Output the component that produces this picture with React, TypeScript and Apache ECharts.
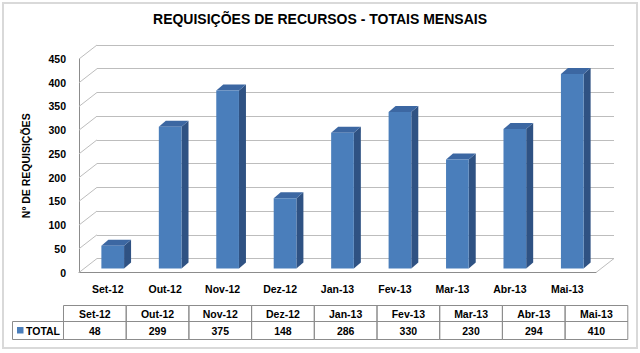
import React, { useEffect, useRef } from "react";
import * as echarts from "echarts";

const categories = ["Set-12", "Out-12", "Nov-12", "Dez-12", "Jan-13", "Fev-13", "Mar-13", "Abr-13", "Mai-13"];
const totals = [48, 299, 375, 148, 286, 330, 230, 294, 410];
const yTicks = [0, 50, 100, 150, 200, 250, 300, 350, 400, 450];
const seriesName = "TOTAL";
const titleText = "REQUISIÇÕES DE RECURSOS - TOTAIS MENSAIS";
const yAxisTitle = "Nº DE REQUISIÇÕES";

const FONT = '"Liberation Sans", Arial, sans-serif';
const FRONT = "#4A7EBB";
const SIDE = "#2F5283";
const TOP = "#3C67A2";
const GRID = "#BDBDBD";
const AXIS = "#8C8C8C";
const TABLE_LINE = "#8C8C8C";

// 3D projection offsets (style constants)
const DEPTH_DX = -18;
const DEPTH_DY = 14;
const BAR_DX = -13;
const BAR_DY = 10;
const SIDE_DX = 7;
const SIDE_DY = -6;

// Data table layout
const T_LEFT = 12.5;
const T_COL0 = 63.5;
const T_COLW = 62.7;
const T_Y0 = 305.5;
const T_Y1 = 321.5;
const T_Y2 = 339.5;

function buildTable(): any[] {
  const els: any[] = [];
  const txt = (x: number, y: number, s: string, align = "center") => ({
    type: "text",
    x,
    y,
    style: {
      text: s,
      fill: "#000",
      font: `bold 10.5px ${FONT}`,
      textAlign: align,
      textVerticalAlign: "middle",
    },
    z: 10,
  });
  const cell = (x: number, y: number, w: number, h: number) => ({
    type: "rect",
    shape: { x, y, width: w, height: h },
    style: { fill: "none", stroke: TABLE_LINE, lineWidth: 1 },
    z: 9,
  });
  categories.forEach((c, i) => {
    const x = T_COL0 + i * T_COLW;
    els.push(cell(x, T_Y0, T_COLW, T_Y1 - T_Y0));
    els.push(cell(x, T_Y1, T_COLW, T_Y2 - T_Y1));
    els.push(txt(x + T_COLW / 2, (T_Y0 + T_Y1) / 2, c));
    els.push(txt(x + T_COLW / 2, (T_Y1 + T_Y2) / 2, String(totals[i])));
  });
  els.push(cell(T_LEFT, T_Y1, T_COL0 - T_LEFT, T_Y2 - T_Y1));
  els.push({
    type: "rect",
    shape: { x: 17, y: 327, width: 6.5, height: 6.5 },
    style: { fill: FRONT },
    z: 10,
  });
  els.push(txt(26, (T_Y1 + T_Y2) / 2, seriesName, "left"));
  return els;
}

export default function App() {
  const ref = useRef<HTMLDivElement>(null);
  useEffect(() => {
    document.body.style.margin = "0";
    if (!ref.current) return;
    const chart = echarts.init(ref.current, undefined, { renderer: "svg" });
    const option: any = {
      animation: false,
      backgroundColor: "#fff",
      title: {
        text: titleText,
        left: "center",
        top: 7,
        textStyle: { fontSize: 14, fontWeight: "bold", color: "#000", fontFamily: FONT },
      },
      grid: [
        { left: 97, right: 26, top: 45, bottom: 94.5 },
        { left: 97 + DEPTH_DX, right: 26 - DEPTH_DX, top: 45 + DEPTH_DY, bottom: 94.5 - DEPTH_DY },
      ],
      xAxis: [
        {
          gridIndex: 0,
          type: "category",
          data: categories,
          axisLine: { show: false },
          axisTick: { show: false },
          axisLabel: { show: false },
        },
        {
          gridIndex: 1,
          type: "category",
          data: categories,
          axisLine: { show: true, lineStyle: { color: AXIS, width: 1 } },
          axisTick: { show: false },
          axisLabel: {
            margin: 11,
            color: "#000",
            fontWeight: "bold",
            fontSize: 10.5,
            fontFamily: FONT,
          },
        },
      ],
      yAxis: [
        {
          gridIndex: 0,
          type: "value",
          min: 0,
          max: 450,
          interval: 50,
          axisLine: { show: false },
          axisTick: { show: false },
          axisLabel: { show: false },
          splitLine: { show: true, lineStyle: { color: GRID, width: 1 } },
        },
        {
          gridIndex: 1,
          type: "value",
          min: 0,
          max: 450,
          interval: 50,
          axisLine: { show: true, lineStyle: { color: AXIS, width: 1 } },
          axisTick: { show: false },
          splitLine: { show: false },
          axisLabel: {
            margin: 13,
            color: "#000",
            fontWeight: "bold",
            fontSize: 10.5,
            fontFamily: FONT,
          },
          name: yAxisTitle,
          nameLocation: "middle",
          nameRotate: 90,
          nameGap: 48,
          nameTextStyle: { color: "#000", fontWeight: "bold", fontSize: 10.5, fontFamily: FONT },
        },
      ],
      series: [
        {
          type: "custom",
          name: "walls",
          xAxisIndex: 0,
          yAxisIndex: 0,
          z: 1,
          silent: true,
          data: yTicks.map((v) => [0, v]),
          encode: { x: 0, y: 1 },
          renderItem: (params: any, api: any) => {
            const v = api.value(1);
            const p = api.coord([0, v]);
            const half = api.size([1, 0])[0] / 2;
            const xl = p[0] - half;
            const children: any[] = [
              {
                type: "line",
                shape: { x1: xl, y1: p[1], x2: xl + DEPTH_DX, y2: p[1] + DEPTH_DY },
                style: { stroke: GRID, lineWidth: 1 },
              },
            ];
            if (v === 0) {
              const pr = api.coord([categories.length - 1, 0]);
              const xr = pr[0] + half;
              children.push({
                type: "line",
                shape: { x1: xr, y1: pr[1], x2: xr + DEPTH_DX, y2: pr[1] + DEPTH_DY },
                style: { stroke: GRID, lineWidth: 1 },
              });
            }
            return { type: "group", children };
          },
        },
        {
          type: "custom",
          name: seriesName,
          xAxisIndex: 0,
          yAxisIndex: 0,
          z: 5,
          data: totals.map((v, i) => [i, v]),
          encode: { x: 0, y: 1 },
          renderItem: (params: any, api: any) => {
            const i = api.value(0);
            const v = api.value(1);
            const top = api.coord([i, v]);
            const base = api.coord([i, 0]);
            const w = api.size([1, 0])[0] * 0.395;
            const x0 = top[0] + BAR_DX - w / 2;
            const x1 = x0 + w;
            const yt = top[1] + BAR_DY;
            const yb = base[1] + BAR_DY;
            return {
              type: "group",
              children: [
                {
                  type: "polygon",
                  shape: {
                    points: [
                      [x1, yb],
                      [x1 + SIDE_DX, yb + SIDE_DY],
                      [x1 + SIDE_DX, yt + SIDE_DY],
                      [x1, yt],
                    ],
                  },
                  style: { fill: SIDE },
                },
                {
                  type: "polygon",
                  shape: {
                    points: [
                      [x0, yt],
                      [x1, yt],
                      [x1 + SIDE_DX, yt + SIDE_DY],
                      [x0 + SIDE_DX, yt + SIDE_DY],
                    ],
                  },
                  style: { fill: TOP },
                },
                {
                  type: "rect",
                  shape: { x: x0, y: yt, width: w, height: yb - yt },
                  style: { fill: FRONT },
                },
              ],
            };
          },
        },
      ],
      graphic: [
        {
          type: "rect",
          shape: { x: 3, y: 3, width: 634, height: 345 },
          style: { fill: "none", stroke: "#D9D9D9", lineWidth: 2 },
          z: 0,
        },
        ...buildTable(),
      ],
    };
    chart.setOption(option);
    return () => chart.dispose();
  }, []);
  return <div ref={ref} style={{ width: 640, height: 353 }} />;
}
